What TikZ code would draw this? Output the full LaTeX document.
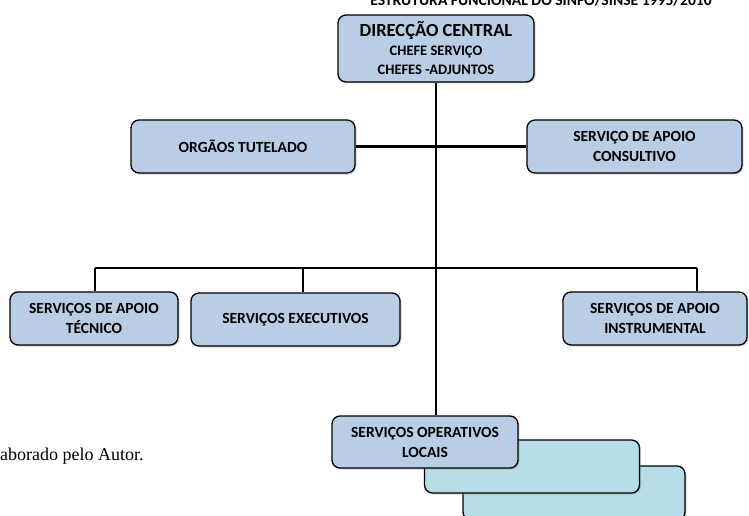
\documentclass[tikz,border=0pt]{standalone}
\usepackage{fontspec}
\setmainfont{Carlito}
\newfontfamily\serifnote{Liberation Serif}
\usetikzlibrary{shadows}
\definecolor{boxblue}{RGB}{185,205,228}
\definecolor{boxcyan}{RGB}{183,222,232}
\tikzset{unitbox/.style={draw=black,line width=1.3pt,rounded corners=8pt,fill=boxblue,
    align=center,font=\bfseries\fontsize{15.5}{20}\selectfont,inner sep=0pt,
    drop shadow={shadow xshift=1.5pt,shadow yshift=-1.5pt,opacity=.35}},
    stackbox/.style={unitbox,fill=boxcyan}}

\begin{document}
\begin{tikzpicture}[x=1pt,y=-1pt,
    link/.style={line width=2.3pt}]
    \useasboundingbox (0,0) rectangle (749,516);
    \begin{scope}
    \clip (0,0) rectangle (749,516);
    \node[font=\bfseries\fontsize{15.6}{18}\selectfont,anchor=base] (title) at (541,6)
        {ESTRUTURA FUNCIONAL DO SINFO/SINSE 1995/2010};
    \node[font=\serifnote\fontsize{18}{20}\selectfont,anchor=base west,inner sep=0pt] (note) at (0,460)
        {aborado pelo Autor.};

    % stacked local services
    \node[stackbox,minimum width=222pt,minimum height=54pt] (loc3) at (574,493) {};
    \node[stackbox,minimum width=215pt,minimum height=53pt] (loc2) at (532,466.5) {};
    \node[unitbox,minimum width=186pt,minimum height=52pt] (sol) at (425,442)
        {SERVIÇOS OPERATIVOS\\LOCAIS};

    \node[unitbox,minimum width=196pt,minimum height=67pt,
          font=\bfseries\fontsize{14.5}{19}\selectfont] (dc) at (436,48.5)
        {{\fontsize{18.5}{19}\selectfont DIRECÇÃO CENTRAL}\\CHEFE SERVIÇO\\CHEFES -ADJUNTOS};
    \node[unitbox,minimum width=224pt,minimum height=53pt] (tut) at (243,146.5) {ORGÃOS TUTELADO};
    \node[unitbox,minimum width=215pt,minimum height=53pt] (cons) at (634.5,146.5)
        {SERVIÇO DE APOIO\\CONSULTIVO};
    \node[unitbox,minimum width=168pt,minimum height=53pt] (tec) at (94,318.5)
        {SERVIÇOS DE APOIO\\TÉCNICO};
    \node[unitbox,minimum width=209pt,minimum height=53pt] (exe) at (295.5,319.5)
        {SERVIÇOS EXECUTIVOS};
    \node[unitbox,minimum width=184pt,minimum height=53pt] (ins) at (655,318.5)
        {SERVIÇOS DE APOIO\\INSTRUMENTAL};
    \end{scope}

    \coordinate (busL) at (95,268);
    \coordinate (busM) at (303,268);
    \coordinate (busR) at (697,268);

    \path[link]
        (dc.south) edge (sol.north -| dc.south)
        (tut.east) edge (cons.west)
        (tec.north -| busL) edge (busL)
        (busL) edge (busR)
        (busM) edge (exe.north -| busM)
        (busR) edge (ins.north -| busR);
\end{tikzpicture}
\end{document}
